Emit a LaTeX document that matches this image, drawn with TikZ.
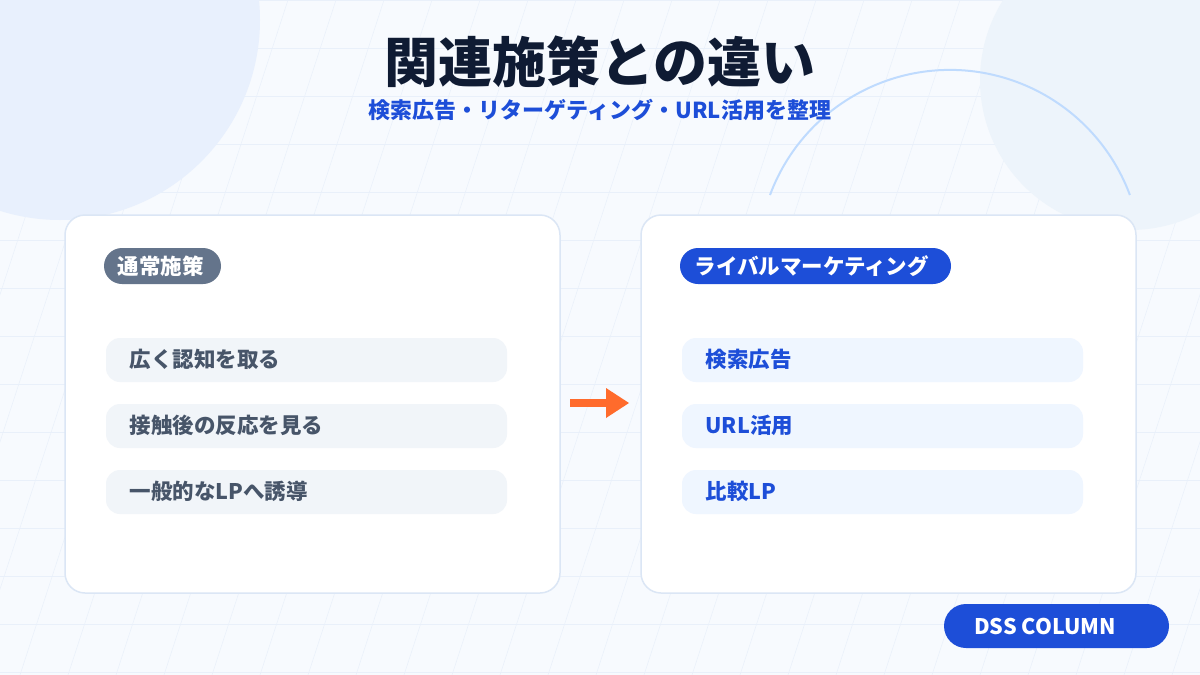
\documentclass[tikz,border=0pt]{standalone}
\usepackage{fontspec}
\setmainfont{Noto Sans CJK JP}
\begin{document}
\begin{tikzpicture}[x=1pt,y=-1pt,
  card/.style={draw=cardb,line width=1.5pt,fill=white,rounded corners=20pt},
  row/.style={rounded corners=14pt},
  lt/.style={anchor=west,font=\bfseries\fontsize{21.5}{21.5}\selectfont},
  tag/.style={rounded corners=18pt},
  tagt/.style={anchor=west,text=white,font=\bfseries\fontsize{21.5}{21.5}\selectfont}]
\definecolor{bg}{HTML}{F7FAFE}
\definecolor{gridc}{HTML}{E9F0FA}
\definecolor{circ}{HTML}{E8F0FD}
\definecolor{circ2}{HTML}{EDF4FB}
\definecolor{arcc}{HTML}{BFDBFE}
\definecolor{cardb}{HTML}{DBE6F5}
\definecolor{navy}{HTML}{0F1B33}
\definecolor{blue}{HTML}{1D4ED8}
\definecolor{slate}{HTML}{64748B}
\definecolor{slatet}{HTML}{475569}
\definecolor{rowg}{HTML}{F1F5F9}
\definecolor{rowb}{HTML}{EFF6FF}
\definecolor{orange}{HTML}{FF6B2C}
\useasboundingbox (0,0) rectangle (1200,675);
\fill[bg] (0,0) rectangle (1200,675);
\begin{scope}
\clip (0,0) rectangle (1200,675);
\foreach \y in {0,48,...,672} \draw[gridc,line width=0.8pt] (0,\y) -- (1200,\y);
\foreach \x in {-240,-192,...,1440} \draw[gridc,line width=0.5pt] (\x,0) -- (\x-220,675);
\fill[circ] (60,20) circle (200);
\fill[circ2] (1130,80) circle (150);
\draw[arcc,line width=2pt] (770,195) arc[start angle=200.4,end angle=339.6,radius=192];
\end{scope}
\node[text=navy,font=\bfseries\fontsize{54}{54}\selectfont] (title) at (600,62) {関連施策との違い};
\node[text=blue,font=\bfseries\fontsize{22}{22}\selectfont] (sub) at (600,110) {検索広告・リターゲティング・URL活用を整理};
\draw[card] (65,215) rectangle (560,593);
\draw[card] (641,215) rectangle (1136,593);
\fill[slate,tag] (104,248) rectangle (221,284);
\node[tagt] (t1) at (114,266) {通常施策};
\fill[blue,tag] (680,248) rectangle (951,284);
\node[tagt] (t2) at (691,266) {ライバルマーケティング};
\foreach \yy/\a/\b [count=\i] in {338/広く認知を取る/検索広告,404/接触後の反応を見る/URL活用,470/一般的なLPへ誘導/比較LP}{
  \fill[rowg,row] (106,\yy) rectangle (507,\yy+44);
  \node[lt,text=slatet] (l\i) at (126,\yy+21) {\a};
  \fill[rowb,row] (682,\yy) rectangle (1083,\yy+44);
  \node[lt,text=blue] (r\i) at (702,\yy+21) {\b};
}
\coordinate (a1) at (570,403);
\coordinate (a2) at (629,403);
\fill[orange] (570,399) rectangle (610,407);
\fill[orange] (606,388) -- (629,403) -- (606,418) -- cycle;
\fill[blue,rounded corners=22pt] (944,604) rectangle (1169,648);
\node[text=white,font=\bfseries\fontsize{21.5}{21.5}\selectfont] (dss) at (1045,626) {DSS COLUMN};
\end{tikzpicture}
\end{document}
